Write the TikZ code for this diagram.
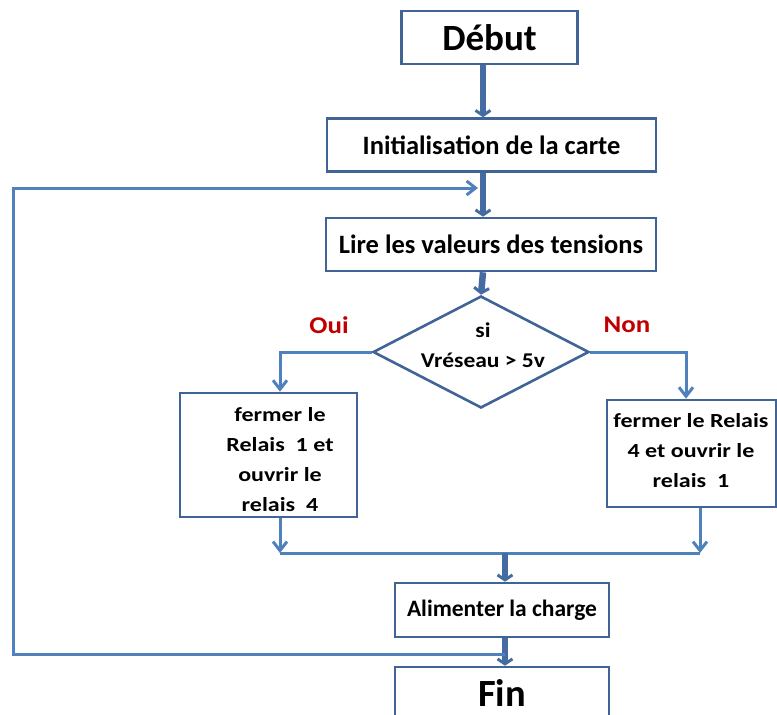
\documentclass[tikz,border=0pt]{standalone}
\usepackage{fontspec}
\setmainfont{Carlito}
\newfontfamily\widefont[FakeStretch=1.2]{Carlito}
\newfontfamily\semiwidefont[FakeStretch=1.12]{Carlito}
\usetikzlibrary{arrows.meta,shapes.geometric}
\definecolor{boxline}{RGB}{64,100,150}
\definecolor{flow}{RGB}{79,129,189}
\definecolor{trunkc}{RGB}{68,108,162}
\definecolor{answer}{RGB}{192,0,0}
\tikzset{
  stepbox/.style={draw=boxline, line width=2.6pt, rectangle, inner sep=0pt, font=\bfseries},
  test/.style={draw=boxline, line width=2.6pt, diamond, inner sep=0pt},
  flowline/.style={draw=flow, line width=3pt},
  flowarrow/.style={flowline, -{Straight Barb[length=9pt,width=14pt,line width=3pt]}},
  trunk/.style={draw=trunkc, line width=6.5pt, -{Straight Barb[length=5pt,width=15pt,line width=3pt]}},
  answertext/.style={text=answer, font=\semiwidefont\bfseries\fontsize{24}{28}\selectfont},
  boxtext/.style={align=center, inner sep=0pt, font=\widefont\bfseries\fontsize{20}{30}\selectfont},
  condfont/.style={align=center, inner sep=0pt, font=\semiwidefont\bfseries\fontsize{21}{30}\selectfont}
}
\begin{document}
\begin{tikzpicture}[x=1pt,y=-1pt]
\useasboundingbox (0,0) rectangle (777,715);
\clip (0,0) rectangle (777,715);

% vertical guide lines for the connectors
\coordinate (mainx) at (483,0);
\coordinate (lowx) at (505,0);
\coordinate (ouix) at (280,0);
\coordinate (nonx) at (686,0);
\coordinate (nonoutx) at (700,0);
\coordinate (loopx) at (13,0);

% boxes
\node[stepbox, minimum width=176pt, minimum height=53pt, font=\bfseries\fontsize{37}{40}\selectfont] (debut) at (489.5,37.5) {Début};
\node[stepbox, minimum width=329pt, minimum height=53pt, font=\bfseries\fontsize{26.5}{30}\selectfont] (init) at (491.5,145) {Initialisation de la carte};
\node[stepbox, minimum width=330pt, minimum height=53pt, font=\bfseries\fontsize{26.5}{30}\selectfont] (lire) at (491,244.5) {Lire les valeurs des tensions};
\node[test, minimum width=216pt, minimum height=112pt] (cond) at (481,352) {};
\node[condfont] (condtext) at (483,345) {si\\Vréseau > 5v};
\node[stepbox, minimum width=177pt, minimum height=124pt] (oui) at (268.5,455) {};
\node[boxtext] (ouitext) at (280,460) {fermer le\\Relais\ \ 1 et\\ouvrir le\\relais\ \ 4};
\node[stepbox, minimum width=169pt, minimum height=107pt] (non) at (691.5,453.5) {};
\node[boxtext] (nontext) at (691,451) {fermer le Relais\\4 et ouvrir le\\relais\ \ 1};
\node[stepbox, minimum width=214pt, minimum height=54pt, font=\bfseries\fontsize{23.5}{26}\selectfont] (alim) at (502,610) {Alimenter la charge};
\node[stepbox, minimum width=214pt, minimum height=50pt] (fin) at (502,692) {};
\node[font=\bfseries\fontsize{38.5}{40}\selectfont, inner sep=0pt] (fintext) at (502,693) {Fin};

% branch labels
\node[answertext] (ouilabel) at (329,325) {Oui};
\node[answertext] (nonlabel) at (627,325) {Non};

% main trunk
\draw[trunk] (debut.south -| mainx) -- (init.north -| mainx);
\draw[trunk] (init.south -| mainx) -- (lire.north -| mainx);
\draw[trunk] (lire.south -| mainx) -- (cond.north);

% branches of the test
\draw[flowarrow] (cond.west) -- (cond.west -| ouix) -- (oui.north -| ouix);
\draw[flowarrow] (cond.east) -- (cond.east -| nonx) -- (non.north -| nonx);

% merge of the two branches
\coordinate (merge) at (505,553);
\draw[flowarrow] (oui.south -| ouix) -- (merge -| ouix);
\draw[flowarrow] (non.south -| nonoutx) -- (merge -| nonoutx);
\draw[flowline] (merge -| ouix) -- (merge -| nonoutx);
\draw[trunk] (merge) -- (alim.north -| lowx);
\draw[trunk] (alim.south -| lowx) -- (fin.north -| lowx);

% loop back to reading the voltages
\coordinate (loopstart) at (505,654);
\coordinate (loopend) at (478,188);
\draw[flowarrow] (loopstart) -- (loopstart -| loopx) -- (loopend -| loopx) -- (loopend);
\end{tikzpicture}
\end{document}
